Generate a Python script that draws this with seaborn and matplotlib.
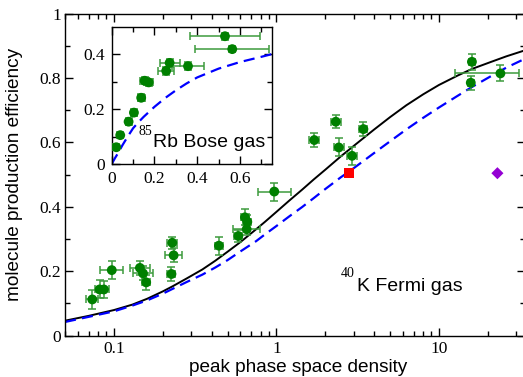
import numpy as np
import matplotlib
matplotlib.use("Agg")
import matplotlib.pyplot as plt
import seaborn as sns
from matplotlib.ticker import FixedLocator, NullFormatter, LogLocator

# ---------------- data ----------------
# 40K Fermi gas measurements
k_psd = [0.0736, 0.0816, 0.0868, 0.097, 0.1445, 0.151, 0.158, 0.2286, 0.233, 0.226,
         0.4426, 0.583, 0.64, 0.662, 0.656, 0.97, 1.71, 2.32, 2.42, 2.92, 3.43,
         15.96, 15.7, 23.9]
k_eff = [0.112, 0.143, 0.143, 0.203, 0.210, 0.193, 0.165, 0.288, 0.249, 0.191,
         0.279, 0.309, 0.367, 0.353, 0.330, 0.447, 0.607, 0.664, 0.584, 0.558, 0.641,
         0.850, 0.785, 0.814]
k_psd_err_lo = [0.0060, 0.0056, 0.0059, 0.0148, 0.019, 0.0199, 0.0087, 0.0156, 0.027, 0.0124,
                0.0243, 0.032, 0.035, 0.036, 0.1125, 0.20, 0.117, 0.159, 0.166, 0.20, 0.19,
                0.68, 0.67, 11.3]
k_psd_err_hi = [0.0065, 0.0060, 0.0064, 0.0175, 0.022, 0.023, 0.0092, 0.0168, 0.0305, 0.0131,
                0.0257, 0.034, 0.037, 0.038, 0.136, 0.252, 0.126, 0.170, 0.178, 0.214, 0.20,
                0.70, 0.69, 7.3]
k_eff_err = [0.030, 0.028, 0.025, 0.028, 0.022, 0.022, 0.023, 0.018, 0.022, 0.023,
             0.028, 0.018, 0.025, 0.020, 0.018, 0.028, 0.022, 0.021, 0.028, 0.028, 0.022,
             0.025, 0.022, 0.025]

# single extra points
red_psd = [2.81]
red_eff = [0.504]
violet_psd = [22.9]
violet_eff = [0.504]

# theory curves
solid_psd = [0.05, 0.07, 0.1, 0.13, 0.16, 0.2, 0.23, 0.28, 0.35, 0.42, 0.5, 0.6, 0.75,
             0.85, 1.0, 1.2, 1.44, 1.7, 2.0, 2.5, 3.15, 4.0, 5.0, 6.3, 8.0, 10.0, 13.0,
             16.0, 21.0, 26.0, 34.0]
solid_eff = [0.046, 0.061, 0.079, 0.096, 0.114, 0.137, 0.153, 0.177, 0.205, 0.232, 0.260,
             0.290, 0.330, 0.353, 0.384, 0.419, 0.453, 0.485, 0.515, 0.557, 0.598, 0.640,
             0.678, 0.715, 0.749, 0.778, 0.807, 0.828, 0.850, 0.867, 0.886]
dashed_psd = [0.05, 0.07, 0.1, 0.13, 0.16, 0.2, 0.23, 0.28, 0.35, 0.42, 0.5, 0.6, 0.75,
              0.85, 1.0, 1.2, 1.44, 1.7, 2.0, 2.5, 2.8, 4.0, 5.0, 6.3, 8.0, 10.0, 13.0,
              16.0, 21.0, 26.0, 34.0]
dashed_eff = [0.042, 0.058, 0.075, 0.093, 0.109, 0.130, 0.145, 0.166, 0.189, 0.211, 0.234,
              0.261, 0.293, 0.314, 0.340, 0.370, 0.399, 0.427, 0.455, 0.492, 0.509, 0.567,
              0.603, 0.640, 0.676, 0.708, 0.744, 0.772, 0.806, 0.832, 0.860]

# 85Rb Bose gas (inset)
rb_psd = [0.0215, 0.040, 0.079, 0.104, 0.138, 0.154, 0.173, 0.255, 0.271, 0.357, 0.53, 0.564]
rb_eff = [0.061, 0.105, 0.154, 0.187, 0.241, 0.303, 0.297, 0.339, 0.368, 0.356, 0.465, 0.418]
rb_psd_err = [0.008, 0.008, 0.012, 0.016, 0.016, 0.022, 0.022, 0.038, 0.047, 0.074, 0.164, 0.172]
rb_eff_err = [0.010, 0.010, 0.012, 0.012, 0.012, 0.012, 0.012, 0.015, 0.014, 0.014, 0.012, 0.012]
rb_theory_psd = [0.0, 0.015, 0.03, 0.05, 0.075, 0.1, 0.125, 0.15, 0.2, 0.25, 0.3, 0.35,
                 0.4, 0.5, 0.6, 0.7, 0.75]
rb_theory_eff = [0.0, 0.021, 0.040, 0.068, 0.100, 0.130, 0.152, 0.172, 0.208, 0.240, 0.268,
                 0.293, 0.315, 0.347, 0.371, 0.390, 0.400]

# tick labels
main_xticks = [0.1, 1, 10]
main_xticklabels = ["0.1", "1", "10"]
main_yticks = [0, 0.2, 0.4, 0.6, 0.8, 1.0]
main_yticklabels = ["0", "0.2", "0.4", "0.6", "0.8", "1"]
inset_xticks = [0, 0.2, 0.4, 0.6]
inset_xticklabels = ["0", "0.2", "0.4", "0.6"]
inset_yticks = [0, 0.2, 0.4]
inset_yticklabels = ["0", "0.2", "0.4"]

# ---------------- style ----------------
sns.set_style("ticks")
plt.rcParams.update({
    "font.family": ["Liberation Serif", "DejaVu Serif"],
    "axes.edgecolor": "black",
    "text.color": "black",
    "axes.labelcolor": "black",
    "xtick.color": "black",
    "ytick.color": "black",
    "axes.linewidth": 1.0,
})

GREEN = "#008000"
EGREEN = "#3d9b3d"
SANS = "Liberation Sans"

W, H = 523, 377
fig = plt.figure(figsize=(W / 100, H / 100), dpi=100)

# main axes (pixel layout)
ax = fig.add_axes([65 / W, 41.5 / H, 460.3 / W, 322 / H])
ax.set_xscale("log")
ax.set_xlim(0.05, 34)
ax.set_ylim(0, 1)

sns.lineplot(x=solid_psd, y=solid_eff, ax=ax, color="black", lw=1.4, zorder=2)
sns.lineplot(x=dashed_psd, y=dashed_eff, ax=ax, color="#0000ff", lw=1.6,
             linestyle=(0, (5, 2.8)), zorder=2)
ax.errorbar(k_psd, k_eff, xerr=[k_psd_err_lo, k_psd_err_hi], yerr=k_eff_err, fmt="none",
            ecolor=EGREEN, elinewidth=1.1, capsize=3, capthick=1.1, zorder=3)
sns.scatterplot(x=k_psd, y=k_eff, ax=ax, color=GREEN, s=50, edgecolor="none",
                zorder=4, legend=False)
sns.scatterplot(x=red_psd, y=red_eff, ax=ax, color="#ff0000", marker="s", s=50,
                edgecolor="none", zorder=4, legend=False)
sns.scatterplot(x=violet_psd, y=violet_eff, ax=ax, color="#9400d3", marker="D", s=38,
                edgecolor="none", zorder=4, legend=False)

ax.xaxis.set_major_locator(FixedLocator(main_xticks))
ax.set_xticklabels(main_xticklabels)
ax.xaxis.set_minor_locator(LogLocator(base=10, subs=np.arange(2, 10), numticks=20))
ax.xaxis.set_minor_formatter(NullFormatter())
ax.yaxis.set_major_locator(FixedLocator(main_yticks))
ax.set_yticklabels(main_yticklabels)
ax.yaxis.set_minor_locator(FixedLocator([0.1, 0.3, 0.5, 0.7, 0.9]))
ax.tick_params(which="both", direction="in", top=True, right=True, width=1.0)
ax.tick_params(which="major", length=6)
ax.tick_params(which="minor", length=3.5)
ax.tick_params(axis="x", which="major", pad=4.3, labelsize=12.5)
ax.tick_params(axis="y", which="major", pad=3.0, labelsize=12.5)
ax.set_xlim(0.05, 34)
ax.set_ylim(0, 1)

ax.set_xlabel("peak phase space density", fontfamily=SANS, fontsize=13.7, va="top")
ax.xaxis.set_label_coords(0.507, -0.073)
ax.set_ylabel("molecule production efficiency", fontfamily=SANS, fontsize=13.7)
ax.yaxis.set_label_coords(-0.091, 0.5)

ax.text(0.600, 0.181, "40", transform=ax.transAxes, fontsize=10, va="baseline", ha="left")
ax.text(0.634, 0.139, "K Fermi gas", transform=ax.transAxes, fontfamily=SANS,
        fontsize=14, va="baseline", ha="left")

# inset axes
ins = fig.add_axes([111.7 / W, (H - 164) / H, 160.3 / W, 137.4 / H])
ins.set_facecolor("white")
ins.set_xlim(0, 0.75)
ins.set_ylim(0, 0.5)
sns.lineplot(x=rb_theory_psd, y=rb_theory_eff, ax=ins, color="#0000ff", lw=1.6,
             linestyle=(0, (5, 2.8)), zorder=2)
ins.errorbar(rb_psd, rb_eff, xerr=rb_psd_err, yerr=rb_eff_err, fmt="none",
             ecolor=EGREEN, elinewidth=1.1, capsize=3, capthick=1.1, zorder=3)
sns.scatterplot(x=rb_psd, y=rb_eff, ax=ins, color=GREEN, s=50, edgecolor="none",
                zorder=4, legend=False)
ins.xaxis.set_major_locator(FixedLocator(inset_xticks))
ins.set_xticklabels(inset_xticklabels)
ins.xaxis.set_minor_locator(FixedLocator([0.1, 0.3, 0.5, 0.7]))
ins.yaxis.set_major_locator(FixedLocator(inset_yticks))
ins.set_yticklabels(inset_yticklabels)
ins.yaxis.set_minor_locator(FixedLocator([0.1, 0.3]))
ins.tick_params(which="both", direction="in", top=True, right=True, width=1.0)
ins.tick_params(which="major", length=6)
ins.tick_params(which="minor", length=3.5)
ins.tick_params(axis="both", which="major", pad=4.7, labelsize=12.5)
ins.set_xlim(0, 0.75)
ins.set_ylim(0, 0.5)
ins.set_xlabel("")
ins.set_ylabel("")
ins.text(0.165, 0.211, "85", transform=ins.transAxes, fontsize=10, va="baseline", ha="left")
ins.text(0.258, 0.126, "Rb Bose gas", transform=ins.transAxes, fontfamily=SANS,
         fontsize=14, va="baseline", ha="left")

fig.savefig("out.png", dpi=100)
